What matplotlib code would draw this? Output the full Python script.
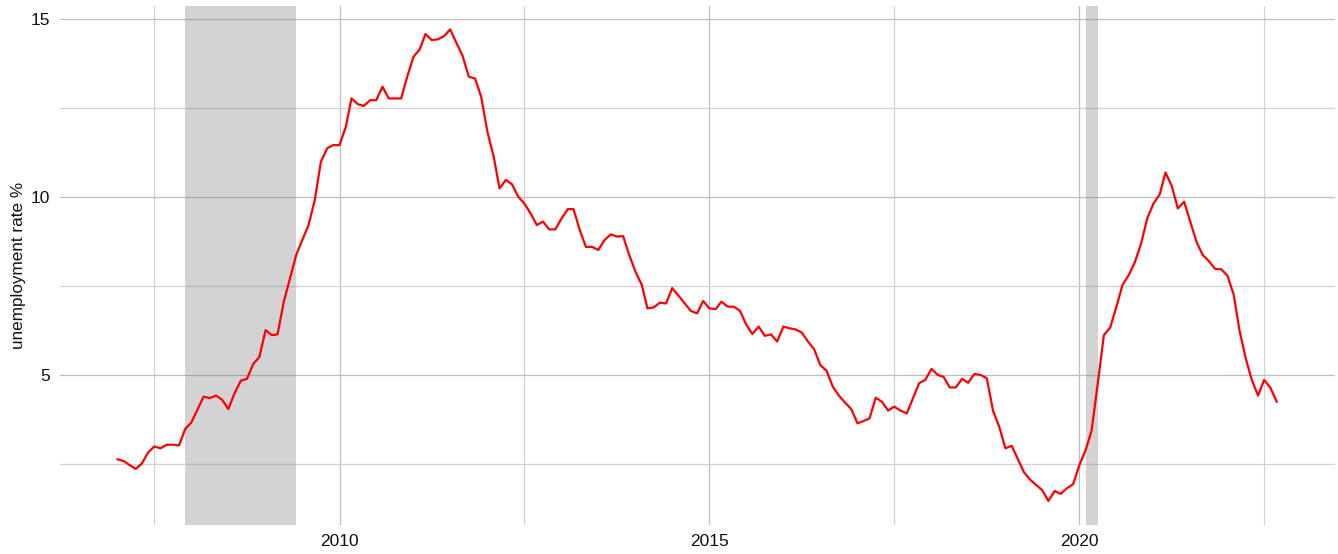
import matplotlib
matplotlib.use("Agg")
from matplotlib import pyplot
import matplotlib.dates as mdates
import pandas

# Monthly unemployment rate (%), January 2007 to September 2022
start = "2007-01-01"
rate = [
    2.63, 2.58, 2.47, 2.36, 2.51, 2.82, 2.99, 2.94, 3.04, 3.04, 3.02, 3.48,
    3.67, 4.04, 4.39, 4.35, 4.42, 4.30, 4.04, 4.49, 4.84, 4.89, 5.31, 5.50,
    6.26, 6.12, 6.14, 7.06, 7.70,
    8.37, 8.79, 9.21, 9.92, 10.99, 11.37, 11.46, 11.46, 11.97, 12.77, 12.61, 12.56,
    12.72, 12.72, 13.10, 12.77, 12.77, 12.77, 13.38, 13.94, 14.15, 14.58, 14.41, 14.43,
    14.52, 14.71, 14.33, 13.96, 13.38, 13.33, 12.82,
    11.83, 11.13, 10.24, 10.48, 10.36, 10.01, 9.82, 9.54, 9.21, 9.31, 9.09, 9.09,
    9.40, 9.66, 9.66, 9.07, 8.60, 8.60, 8.51, 8.79, 8.95, 8.89, 8.90, 8.37,
    7.90, 7.53,
    6.87, 6.90, 7.03, 7.01, 7.44, 7.23, 7.01, 6.80, 6.73, 7.08, 6.87, 6.85,
    7.06, 6.92, 6.92, 6.80, 6.42, 6.15, 6.36, 6.10, 6.14, 5.94, 6.36, 6.31,
    6.28, 6.19, 5.94, 5.72, 5.28, 5.12, 4.67, 4.42, 4.22, 4.04,
    3.64, 3.71, 3.78, 4.36, 4.25, 4.00, 4.11, 4.00, 3.92, 4.34, 4.77, 4.86,
    5.17, 5.00, 4.95, 4.65, 4.65, 4.89, 4.78, 5.03, 5.00, 4.91, 3.99, 3.55,
    2.94, 3.01, 2.66, 2.28, 2.07, 1.91, 1.77, 1.46, 1.74, 1.66,
    1.82, 1.93, 2.47, 2.89, 3.43, 4.77, 6.12, 6.33, 6.90, 7.53, 7.81, 8.17,
    8.70, 9.40, 9.82, 10.08, 10.69, 10.31, 9.68, 9.87, 9.31, 8.74, 8.37, 8.20,
    7.98, 7.97, 7.79, 7.25, 6.26, 5.47, 4.86, 4.42, 4.86, 4.64, 4.25,
]

# Recession periods (shaded)
recessionStart = ["2007-12-01", "2020-02-01"]
recessionEnd = ["2009-06-01", "2020-04-01"]

yTicks = [5, 10, 15]
yMinor = [2.5, 7.5, 12.5]
xMinor = ["2007-07-02", "2012-07-02", "2017-07-02", "2022-07-02"]

dates = pandas.date_range(start, periods=len(rate), freq="MS")

pyplot.rcParams["font.family"] = ["Liberation Sans", "DejaVu Sans"]

figure = pyplot.figure(figsize=(13.38, 5.54), dpi=100)
axis = figure.add_axes([0.0445, 0.0532, 0.953, 0.9363])

for s, e in zip(recessionStart, recessionEnd):
    axis.axvspan(pandas.Timestamp(s), pandas.Timestamp(e), color="#808080", alpha=0.34, lw=0, zorder=1)

axis.plot(dates, rate, color="red", linewidth=1.6, zorder=3)

axis.margins(x=0.05, y=0.05)

axis.xaxis.set_major_locator(mdates.YearLocator(5))
axis.xaxis.set_major_formatter(mdates.DateFormatter("%Y"))
axis.set_xticks([pandas.Timestamp(d) for d in xMinor], minor=True)
axis.set_yticks(yTicks)
axis.set_yticks(yMinor, minor=True)

axis.grid(True, which="major", color="#bdbdbd", linewidth=0.9, zorder=0)
axis.grid(True, which="minor", color="#d2d2d2", linewidth=0.9, zorder=0)
axis.set_axisbelow(True)

for side in axis.spines.values():
    side.set_visible(False)

axis.tick_params(which="both", length=0, labelsize=12.5, labelcolor="#111111")
axis.tick_params(axis="x", pad=7)
axis.tick_params(axis="y", pad=7)

axis.set_ylabel("unemployment rate %", fontsize=12.3, color="#111111", va="center")
axis.yaxis.set_label_coords((18.6 - 59.5) / 1275, 0.5)

pyplot.savefig("out.png", dpi=100)
